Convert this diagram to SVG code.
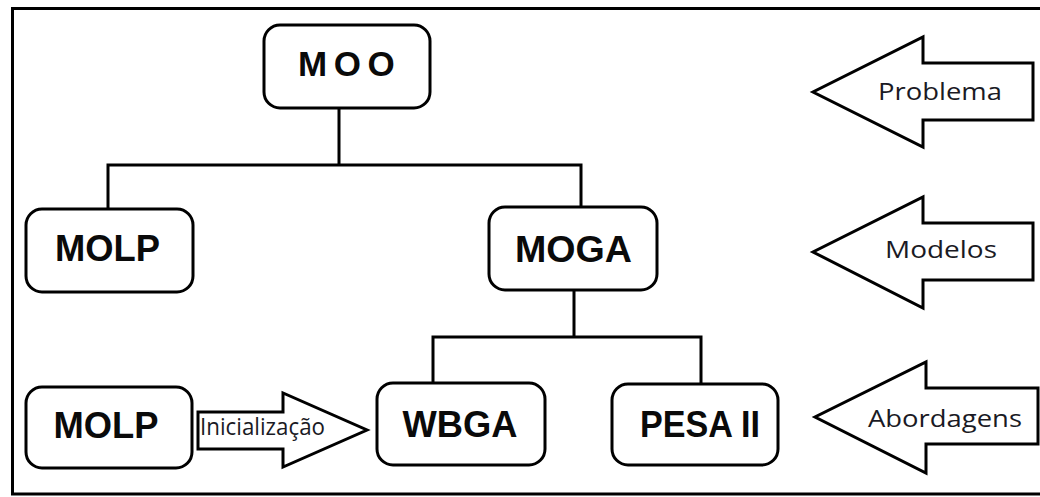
<svg xmlns="http://www.w3.org/2000/svg" width="1040" height="497" viewBox="0 0 1040 497">
<style>
.box{fill:#fff;stroke:#000;stroke-width:3}
.ln{fill:none;stroke:#000;stroke-width:3}
.arr{fill:#fff;stroke:#000;stroke-width:3;stroke-linejoin:miter}
.bt{font-family:"Liberation Sans",Arial,sans-serif;font-weight:bold;font-size:37px;fill:#0a0a0a;text-anchor:middle}
.lt{font-family:"Open Sans","Liberation Sans",sans-serif;font-size:23px;fill:#1a1a24;text-anchor:middle}
</style>
<rect x="0" y="0" width="1040" height="497" fill="#fff"/>
<path class="ln" d="M1045 8.5 H12.5 V494 H1045"/>
<g id="connectors">
<path class="ln" d="M339 108 V165 M108 209 V165 H581 V207"/>
<path class="ln" d="M574 290 V337 M433 383 V337 H701 V384"/>
</g>
<g id="moo">
<rect class="box" x="264" y="25" width="166" height="83" rx="16"/>
<text x="298" y="76" font-family="Liberation Sans, Arial, sans-serif" font-weight="bold" font-size="35" letter-spacing="6.5" fill="#0a0a0a">MOO</text>
</g>
<g id="molp1">
<rect class="box" x="26" y="209" width="167" height="83" rx="16"/>
<text class="bt" x="107.5" y="261" textLength="105" lengthAdjust="spacingAndGlyphs">MOLP</text>
</g>
<g id="moga">
<rect class="box" x="489" y="207" width="168" height="83" rx="16"/>
<text class="bt" x="573.5" y="262" textLength="117" lengthAdjust="spacingAndGlyphs">MOGA</text>
</g>
<g id="molp2">
<rect class="box" x="26" y="387" width="166" height="81" rx="16"/>
<text class="bt" x="106" y="438" textLength="105" lengthAdjust="spacingAndGlyphs">MOLP</text>
</g>
<g id="wbga">
<rect class="box" x="377" y="383" width="168" height="82" rx="16"/>
<text class="bt" x="460" y="437" textLength="115" lengthAdjust="spacingAndGlyphs">WBGA</text>
</g>
<g id="pesa">
<rect class="box" x="612" y="384" width="166" height="81" rx="16"/>
<text class="bt" x="700" y="437" textLength="120" lengthAdjust="spacingAndGlyphs">PESA II</text>
</g>
<g id="inicializacao">
<path class="arr" d="M198 412 H283 V393 L367 430 L283 467 V449 H198 Z"/>
<text class="lt" x="262.5" y="435" textLength="125" lengthAdjust="spacingAndGlyphs">Inicialização</text>
</g>
<g id="problema">
<path class="arr" d="M1033 63 H923 V37 L813 92 L923 147 V120 H1033 Z"/>
<text class="lt" x="940" y="100" font-size="25" textLength="124" lengthAdjust="spacingAndGlyphs">Problema</text>
</g>
<g id="modelos">
<path class="arr" d="M1033 223 H923 V197 L813 252 L923 308 V280 H1033 Z"/>
<text class="lt" x="941" y="258" font-size="25" textLength="112" lengthAdjust="spacingAndGlyphs">Modelos</text>
</g>
<g id="abordagens">
<path class="arr" d="M1038 388 H926 V362 L815 417 L926 473 V444 H1038 Z"/>
<text class="lt" x="945" y="427" font-size="25" textLength="154" lengthAdjust="spacingAndGlyphs">Abordagens</text>
</g>
</svg>
